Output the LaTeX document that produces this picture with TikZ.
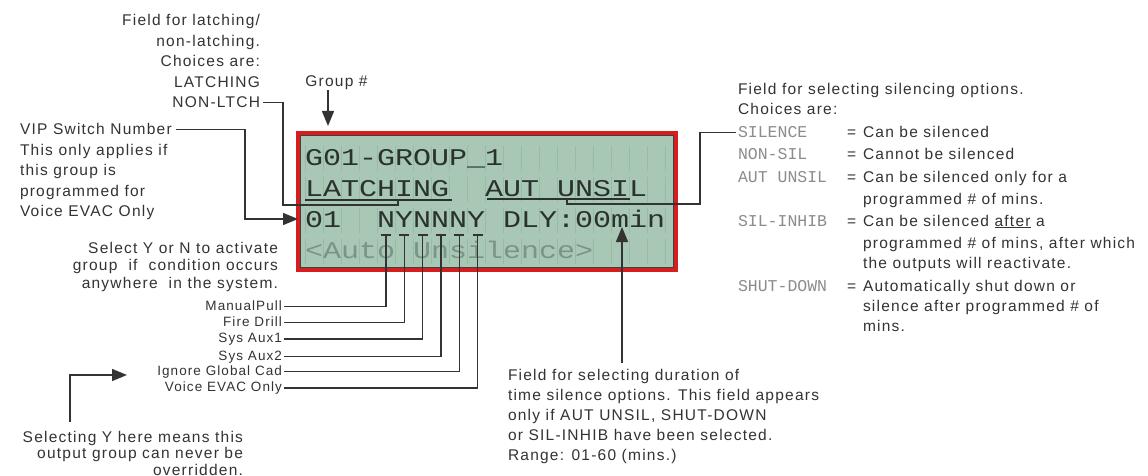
\documentclass[tikz,border=0pt]{standalone}
\usepackage{fontspec}
\setmainfont{Liberation Sans}[LetterSpace=8]
\newfontfamily\lcdfont{Liberation Mono}[FakeStretch=1.25]
\newfontfamily\codefont{Liberation Mono}
\usetikzlibrary{arrows.meta}
\definecolor{ink}{RGB}{51,51,51}
\definecolor{lcdbg}{RGB}{168,200,181}
\definecolor{lcdgrid}{RGB}{152,186,167}
\definecolor{lcdtxt}{RGB}{42,50,46}
\definecolor{lcddim}{RGB}{122,148,135}
\definecolor{codegray}{RGB}{140,140,140}
\definecolor{bred}{RGB}{214,30,30}
\tikzset{
  every node/.style={inner sep=0pt, outer sep=0pt, text=ink},
  txt/.style={font=\fontsize{15.5}{20.5}\selectfont},
  lbl/.style={font=\fontsize{13.5}{16}\selectfont, anchor=east, text height=10pt, text depth=3pt},
  conn/.style={draw=ink, line width=1.4pt},
  arr/.style={conn, -{Triangle[length=15pt,width=12pt]}},
  lcdrow/.style={font=\lcdfont\fontsize{24}{24}\selectfont, anchor=base west, text=lcdtxt},
  code/.style={font=\codefont\fontsize{16.5}{20}\selectfont, text=codegray, anchor=base west},
  desc/.style={txt, anchor=base west},
}
\begin{document}
\begin{tikzpicture}[x=1pt,y=-1pt]
\useasboundingbox (0,0) rectangle (1148,476);
\fill[white] (0,0) rectangle (1148,476);

% ---------- LCD ----------
\node[draw=bred, line width=4pt, fill=lcdbg, minimum width=378pt, minimum height=137pt, anchor=north west] (lcd) at (298,133) {};
\draw[line width=1.2pt, draw=black!75] ([shift={(2.8pt,-2.8pt)}]lcd.north west) rectangle ([shift={(-2.8pt,2.8pt)}]lcd.south east);
\foreach \b in {165,196,227,258}{
  \foreach \k in {0,...,20}{
    \draw[lcdgrid, line width=0.8pt] (305+18*\k,\b-19) -- (305+18*\k,\b+6);
  }
}
\node[lcdrow] (r1) at (305,165) {G01-GROUP\_1};
\node[lcdrow] (r2) at (305,196) {LATCHING\ \ AUT UNSIL};
\node[lcdrow] (r3) at (305,227) {01\ \ NYNNNY DLY:00min};
\node[lcdrow, text=lcddim] (r4) at (305,258) {<Auto Unsilence>};
\coordinate (u1a) at (305,200); \coordinate (u1b) at (452,200);
\coordinate (u2a) at (487,199); \coordinate (u2b) at (630,199);
\draw[lcdtxt, line width=1.2pt] (u1a) -- (u1b);
\draw[lcdtxt, line width=1.2pt] (u2a) -- (u2b);

% ---------- latching ----------
\node[txt, align=right, anchor=north east] (lat) at (260,11.65)
  {\strut Field for latching/\\non-latching.\\Choices are:\\LATCHING};
\node[txt, anchor=base east] (nonl) at (260,108) {NON-LTCH};
\coordinate (latc) at (283,205);
\coordinate (latd) at (398,205);
\coordinate (late) at (398,200);
\draw[conn] ([xshift=3pt]nonl.east) -| (latc) -- (latd) -- (late);

% ---------- Group # ----------
\node[txt, anchor=base] (grp) at (336.5,87) {Group \#};
\coordinate (ga) at (328,126);
\draw[arr] (grp.south -| ga) -- (ga);

% ---------- VIP ----------
\node[txt, anchor=base west] (vip1) at (20,135) {VIP Switch Number};
\node[txt, align=left, anchor=north west] (vip2) at (20,140.65)
  {\strut This only applies if\\this group is\\programmed for\\Voice EVAC Only};
\coordinate (vipc) at (245,219);
\draw[arr] ([xshift=4pt]vip1.east) -| (vipc) -- (lcd.west |- vipc);

% ---------- Y/N selections ----------
\node[font=\fontsize{15.5}{17.5}\selectfont, align=right, anchor=north east] (sel) at (278,240.75)
  {\strut Select Y or N to activate\\group\ \ if\ \ condition occurs\\anywhere\ \ in the system.};
\foreach \i/\x/\y/\t in {1/386/306.7/ManualPull, 2/404.3/322.7/Fire Drill, 3/422.6/339/Sys Aux1,
    4/440.9/356.7/Sys Aux2, 5/459.2/371.7/Ignore Global Cad, 6/477.5/388/Voice EVAC Only}{
  \node[lbl] (l\i) at (282,\y) {\t};
  \coordinate (t\i) at (\x,235);
  \draw[conn] ([xshift=-5pt]t\i) -- ([xshift=5pt]t\i);
  \draw[conn] (t\i) |- ([xshift=2pt]l\i.east);
}

% ---------- bottom left ----------
\node[font=\fontsize{15.5}{16.5}\selectfont, align=right, anchor=north east] (bot) at (243,430.45)
  {\strut Selecting Y here means this\\output group can never be\\overridden.};
\coordinate (bcorner) at (70,375);
\coordinate (btip) at (127,375);
\draw[arr] ([yshift=8pt]bcorner |- bot.north) -- (bcorner) -- (btip);

% ---------- duration ----------
\node[font=\fontsize{15.5}{20}\selectfont, align=left, anchor=north west] (dur) at (508,366)
  {\strut Field for selecting duration of\\time silence options. This field appears\\only if AUT UNSIL, SHUT-DOWN\\or SIL-INHIB have been selected.\\Range: 01-60 (mins.)};
\coordinate (dtip) at (622,227);
\draw[arr] ([yshift=3pt]dtip |- dur.north) -- (dtip);

% ---------- silencing options ----------
\node[desc] (h1) at (738,95) {Field for selecting silencing options.};
\node[desc] (h2) at (738,115) {Choices are:};
\node[code] (c1) at (738,138) {SILENCE};
\node[code] (c2) at (738,160) {NON-SIL};
\node[code] (c3) at (738,182) {AUT UNSIL};
\node[code] (c4) at (738,226) {SIL-INHIB};
\node[code] (c5) at (738,291) {SHUT-DOWN};
\foreach \j/\b in {1/138,2/160,3/182,4/226,5/291}{
  \node[desc] (e\j) at (847,\b) {=};
}
\node[desc] (d1) at (863,138) {Can be silenced};
\node[desc] (d2) at (863,160) {Cannot be silenced};
\node[desc] (d3) at (863,182) {Can be silenced only for a};
\node[desc] (d4) at (863,204) {programmed \# of mins.};
\node[desc] (d5) at (863,226) {Can be silenced \underline{after} a};
\node[desc] (d6) at (863,248) {programmed \# of mins, after which};
\node[desc] (d7) at (863,268) {the outputs will reactivate.};
\node[desc] (d8) at (863,291) {Automatically shut down or};
\node[desc] (d9) at (863,311) {silence after programmed \# of};
\node[desc] (d10) at (863,331) {mins.};
\coordinate (sc1) at (700,204);
\coordinate (sc2) at (567,204);
\coordinate (sc3) at (567,199);
\draw[conn] ([xshift=-2pt]c1.west) -| (sc1) -- (sc2) -- (sc3);
\end{tikzpicture}
\end{document}
